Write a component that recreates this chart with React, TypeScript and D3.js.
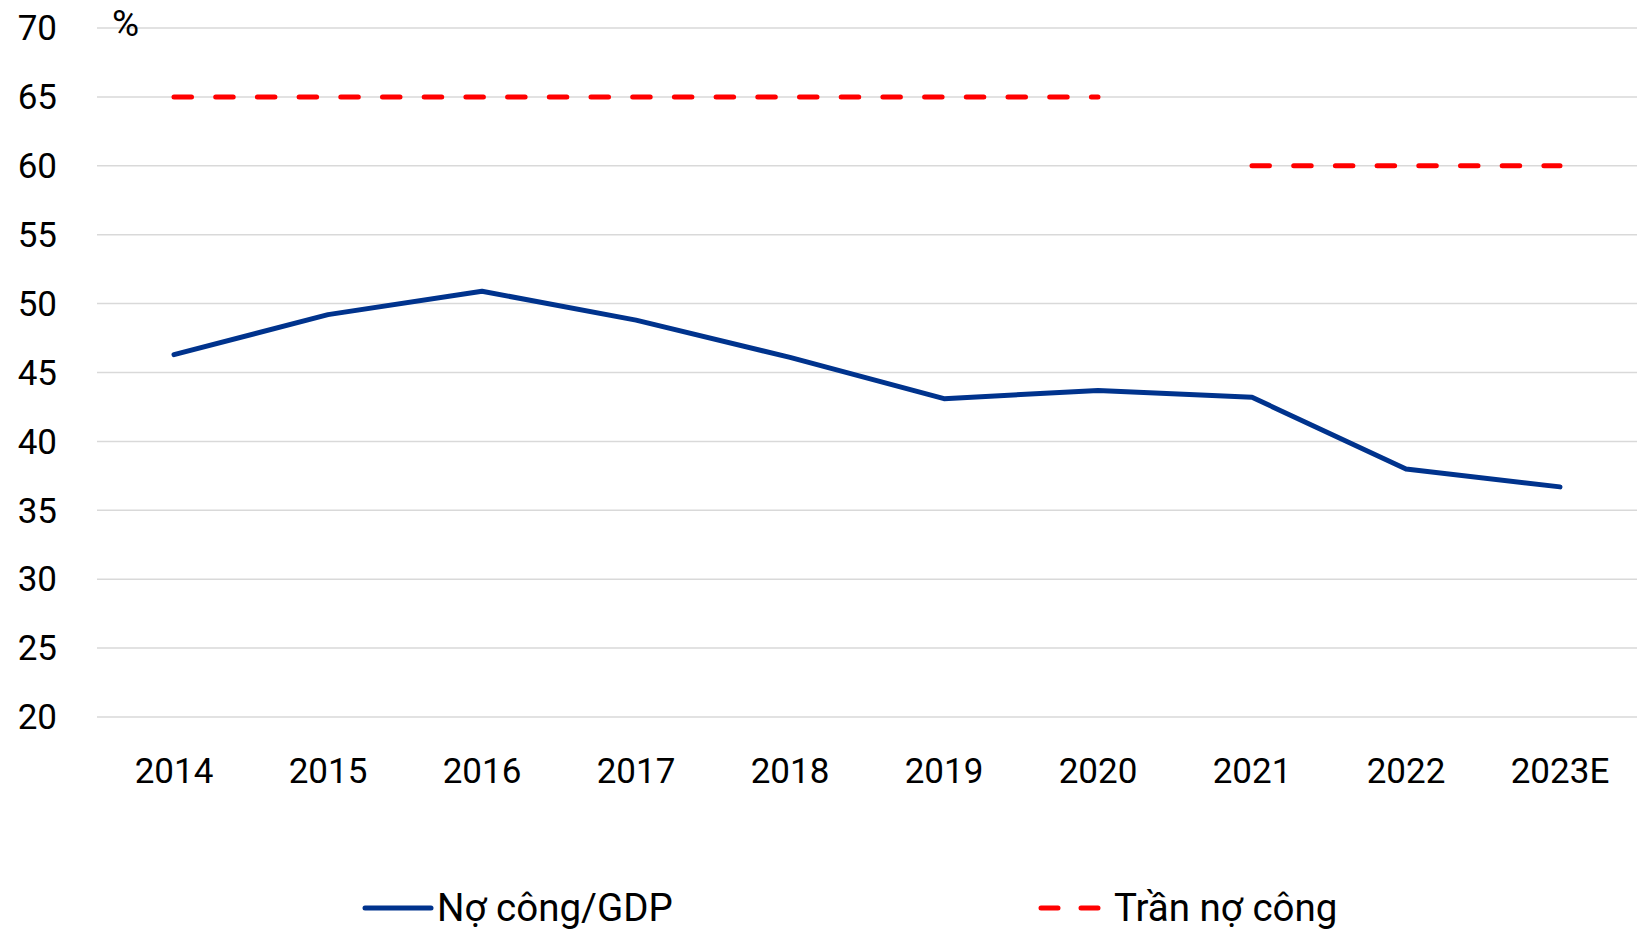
import React, { useEffect, useRef } from 'react';
import * as d3 from 'd3';

const years = ['2014', '2015', '2016', '2017', '2018', '2019', '2020', '2021', '2022', '2023E'];
const debtToGdp = [46.3, 49.2, 50.9, 48.8, 46.1, 43.1, 43.7, 43.2, 38.0, 36.7];
// debt ceiling: 65% up to 2020, 60% from 2021
const ceiling = [65, 65, 65, 65, 65, 65, 65, 60, 60, 60];
const ceilingBreak = 7;
const yTicks = [20, 25, 30, 35, 40, 45, 50, 55, 60, 65, 70];

const seriesNames = ['Nợ công/GDP', 'Trần nợ công'];

const W = 1637;
const H = 930;
const FONT = 'Roboto, "Noto Sans", sans-serif';

const DebtChart = () => {
  const svgRef = useRef<SVGSVGElement>(null);

  useEffect(() => {
    const svg = d3.select(svgRef.current);
    svg.selectAll('*').remove();

    const margin = { top: 28, right: 0, bottom: 213, left: 97 };

    const x = d3.scaleBand()
      .domain(years)
      .range([margin.left, W - margin.right]);

    const y = d3.scaleLinear()
      .domain([20, 70])
      .range([H - margin.bottom, margin.top]);

    const cx = (d: string) => (x(d) as number) + x.bandwidth() / 2;

    // gridlines
    svg.append('g')
      .selectAll('line')
      .data(yTicks)
      .enter()
      .append('line')
      .attr('x1', margin.left)
      .attr('x2', W - margin.right)
      .attr('y1', d => y(d))
      .attr('y2', d => y(d))
      .attr('stroke', '#d9d9d9')
      .attr('stroke-width', 1.5);

    // y tick labels
    svg.append('g')
      .selectAll('text')
      .data(yTicks)
      .enter()
      .append('text')
      .attr('x', 57)
      .attr('y', d => y(d) + 3)
      .attr('text-anchor', 'end')
      .attr('dominant-baseline', 'middle')
      .attr('font-family', FONT)
      .attr('font-size', 35)
      .attr('fill', '#000')
      .text(d => d);

    svg.append('text')
      .attr('x', 112)
      .attr('y', 26)
      .attr('dominant-baseline', 'middle')
      .attr('font-family', FONT)
      .attr('font-size', 37)
      .text('%');

    // x labels
    svg.append('g')
      .selectAll('text')
      .data(years)
      .enter()
      .append('text')
      .attr('x', d => cx(d))
      .attr('y', 783)
      .attr('text-anchor', 'middle')
      .attr('font-family', FONT)
      .attr('font-size', 35)
      .text(d => d);

    // ceiling lines (two segments)
    const ceilingPts = years.map((yr, i) => ({ yr, v: ceiling[i], i }));
    const segs = [
      ceilingPts.filter(p => p.i < ceilingBreak),
      ceilingPts.filter(p => p.i >= ceilingBreak),
    ];
    const line = d3.line<{ yr: string; v: number }>()
      .x(d => cx(d.yr))
      .y(d => y(d.v));

    svg.append('g')
      .selectAll('path')
      .data(segs)
      .enter()
      .append('path')
      .attr('d', d => line(d))
      .attr('fill', 'none')
      .attr('stroke', '#ff0000')
      .attr('stroke-width', 5)
      .attr('stroke-linecap', 'round')
      .attr('stroke-dasharray', '17.5,24.2');

    // debt/GDP line
    svg.append('path')
      .datum(years.map((yr, i) => ({ yr, v: debtToGdp[i] })))
      .attr('d', line)
      .attr('fill', 'none')
      .attr('stroke', '#00338d')
      .attr('stroke-width', 5)
      .attr('stroke-linejoin', 'round')
      .attr('stroke-linecap', 'round');

    // legend
    const legY = 908;
    const leg = svg.append('g').attr('font-family', FONT).attr('font-size', 38.5);

    leg.append('line')
      .attr('x1', 365).attr('x2', 431)
      .attr('y1', legY).attr('y2', legY)
      .attr('stroke', '#00338d')
      .attr('stroke-width', 5)
      .attr('stroke-linecap', 'round');
    leg.append('text')
      .attr('x', 437)
      .attr('y', 921)
      .text(seriesNames[0]);

    leg.append('line')
      .attr('x1', 1041).attr('x2', 1101)
      .attr('y1', legY).attr('y2', legY)
      .attr('stroke', '#ff0000')
      .attr('stroke-width', 5)
      .attr('stroke-linecap', 'round')
      .attr('stroke-dasharray', '17,23');
    leg.append('text')
      .attr('x', 1114)
      .attr('y', 921)
      .text(seriesNames[1]);
  }, []);

  return (
    <svg
      ref={svgRef}
      width={W}
      height={H}
      style={{ position: 'absolute', left: 0, top: 0, background: '#fff' }}
    ></svg>
  );
};

export default function App() {
  return <DebtChart />;
}
